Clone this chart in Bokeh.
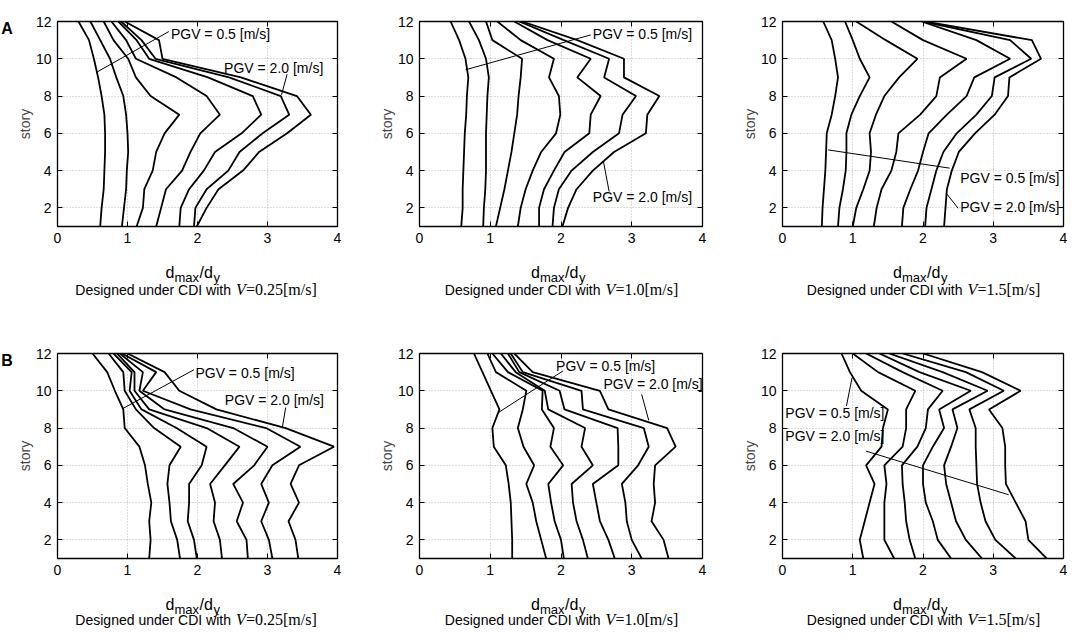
from bokeh.plotting import figure
from bokeh.models import Range1d, FixedTicker, Label, LinearAxis
from bokeh.layouts import column, row
from bokeh.embed import file_html
from bokeh.resources import INLINE

# ---------------- data ----------------
stories = list(range(1, 13))                      # story 1 .. 12
pgv_levels = ["0.5", "0.75", "1.0", "1.25", "1.5", "1.75", "2.0"]
x_ticks = [0, 1, 2, 3, 4]
y_ticks = [2, 4, 6, 8, 10, 12]
design_v = ["0.25", "1.0", "1.5"]
row_letters = ["A", "B"]

# d_max/d_y per story (story 1..12), one list per PGV level
a1_curves = [
    [0.61, 0.63, 0.66, 0.67, 0.68, 0.68, 0.67, 0.63, 0.58, 0.52, 0.45, 0.30],
    [0.92, 0.95, 0.98, 0.99, 1.01, 1.00, 0.98, 0.94, 0.84, 0.75, 0.61, 0.47],
    [1.13, 1.22, 1.24, 1.36, 1.41, 1.53, 1.74, 1.33, 1.12, 1.01, 0.80, 0.66],
    [1.41, 1.48, 1.55, 1.78, 1.90, 2.04, 2.32, 2.13, 1.70, 1.12, 0.98, 0.77],
    [1.74, 1.76, 1.88, 2.09, 2.25, 2.63, 2.91, 2.79, 2.15, 1.31, 1.13, 0.87],
    [1.95, 1.97, 2.13, 2.44, 2.60, 2.93, 3.31, 3.19, 2.45, 1.40, 1.20, 0.91],
    [1.99, 2.13, 2.30, 2.65, 2.88, 3.28, 3.62, 3.42, 2.62, 1.50, 1.45, 0.96],
]
a2_curves = [
    [0.59, 0.61, 0.61, 0.62, 0.63, 0.64, 0.66, 0.67, 0.69, 0.65, 0.56, 0.44],
    [0.90, 0.91, 0.93, 0.94, 0.94, 0.94, 0.95, 0.96, 0.98, 0.94, 0.84, 0.70],
    [1.08, 1.14, 1.20, 1.25, 1.30, 1.34, 1.38, 1.40, 1.43, 1.45, 1.03, 0.94],
    [1.39, 1.43, 1.50, 1.60, 1.72, 1.93, 1.99, 1.97, 1.83, 1.90, 1.43, 1.10],
    [1.69, 1.69, 1.76, 1.90, 2.05, 2.40, 2.42, 2.56, 2.23, 2.42, 1.81, 1.34],
    [1.88, 1.90, 1.97, 2.15, 2.45, 2.82, 2.87, 3.06, 2.61, 2.68, 2.04, 1.41],
    [2.02, 2.10, 2.22, 2.45, 2.75, 3.20, 3.22, 3.39, 2.89, 2.89, 2.23, 1.45],
]
a3_curves = [
    [0.56, 0.57, 0.59, 0.61, 0.62, 0.63, 0.70, 0.75, 0.79, 0.75, 0.70, 0.58],
    [0.79, 0.81, 0.86, 0.90, 0.91, 0.91, 0.98, 1.10, 1.24, 1.10, 1.00, 0.89],
    [1.00, 1.05, 1.15, 1.24, 1.26, 1.24, 1.33, 1.45, 1.66, 1.92, 1.47, 1.05],
    [1.30, 1.34, 1.41, 1.55, 1.62, 1.65, 1.96, 2.19, 2.24, 2.62, 2.00, 1.55],
    [1.70, 1.72, 1.82, 1.93, 2.00, 2.08, 2.34, 2.62, 2.73, 3.24, 2.76, 1.98],
    [2.03, 2.05, 2.12, 2.19, 2.29, 2.48, 2.76, 2.98, 3.02, 3.54, 3.24, 2.00],
    [2.30, 2.32, 2.34, 2.41, 2.51, 2.74, 3.02, 3.21, 3.23, 3.68, 3.55, 2.03],
]
b1_curves = [
    [1.31, 1.33, 1.31, 1.34, 1.29, 1.25, 1.17, 0.96, 0.94, 0.82, 0.71, 0.50],
    [1.75, 1.71, 1.62, 1.60, 1.57, 1.60, 1.76, 1.38, 1.12, 0.96, 0.94, 0.73],
    [1.99, 1.95, 1.86, 1.88, 1.88, 2.06, 2.13, 1.70, 1.20, 1.03, 1.06, 0.80],
    [2.35, 2.32, 2.23, 2.25, 2.18, 2.39, 2.60, 2.13, 1.31, 1.10, 1.10, 0.85],
    [2.72, 2.70, 2.56, 2.65, 2.51, 2.81, 3.00, 2.51, 1.53, 1.17, 1.22, 0.89],
    [3.07, 3.02, 2.91, 3.02, 2.91, 3.07, 3.47, 2.98, 1.90, 1.22, 1.41, 0.92],
    [3.44, 3.40, 3.30, 3.45, 3.33, 3.45, 3.95, 3.26, 2.27, 1.74, 1.53, 1.00],
]
b2_curves = [
    [1.31, 1.31, 1.30, 1.29, 1.26, 1.22, 1.05, 1.03, 1.13, 1.01, 0.89, 0.77],
    [1.79, 1.72, 1.65, 1.60, 1.51, 1.62, 1.47, 1.39, 1.46, 1.51, 1.08, 0.96],
    [2.04, 2.00, 1.91, 1.86, 1.82, 2.03, 1.85, 1.90, 1.73, 1.74, 1.25, 1.03],
    [2.38, 2.31, 2.22, 2.17, 2.15, 2.45, 2.29, 2.34, 1.82, 1.77, 1.36, 1.15],
    [2.76, 2.67, 2.55, 2.50, 2.45, 2.81, 2.81, 2.80, 2.05, 1.98, 1.41, 1.25],
    [3.14, 3.00, 2.93, 2.91, 2.86, 3.09, 3.24, 3.17, 2.31, 2.29, 1.46, 1.29],
    [3.52, 3.45, 3.28, 3.33, 3.31, 3.33, 3.62, 3.50, 2.67, 2.55, 1.60, 1.34],
]
b3_curves = [
    [1.15, 1.10, 1.17, 1.24, 1.31, 1.19, 1.41, 1.43, 1.50, 1.12, 0.96, 0.84],
    [1.59, 1.45, 1.45, 1.45, 1.48, 1.45, 1.71, 1.76, 1.76, 1.89, 1.36, 1.00],
    [1.89, 1.81, 1.76, 1.74, 1.71, 1.70, 1.92, 2.04, 2.07, 2.28, 1.71, 1.19],
    [2.40, 2.21, 2.14, 2.04, 2.00, 2.00, 2.14, 2.30, 2.23, 2.68, 1.95, 1.38],
    [2.84, 2.61, 2.47, 2.40, 2.33, 2.30, 2.40, 2.49, 2.42, 2.92, 2.28, 1.52],
    [3.32, 3.03, 2.89, 2.82, 2.77, 2.76, 2.75, 2.75, 2.66, 3.15, 2.61, 1.71],
    [3.76, 3.50, 3.46, 3.32, 3.18, 3.17, 3.17, 3.13, 2.94, 3.39, 2.84, 2.00],
]

# annotation leaders ([x0, x1], [y0, y1]) and text anchors (x, y)
a1_lead05 = ([0.56, 1.59], [9.28, 11.46]); a1_text05 = (1.62, 11.35)
a1_lead20 = ([3.20, 3.28], [8.06, 9.17]);  a1_text20 = (2.38, 9.50)
a2_lead05 = ([0.65, 2.42], [9.41, 11.28]); a2_text05 = (2.45, 11.35)
a2_lead20 = ([2.60, 2.68], [4.49, 2.88]);  a2_text20 = (2.45, 2.60)
a3_lead05 = ([0.65, 2.38], [5.11, 4.13]);  a3_text05 = (2.53, 3.60)
a3_lead20 = ([2.33, 2.50], [2.79, 1.98]);  a3_text20 = (2.53, 2.07)
b1_lead05 = ([0.93, 1.95], [9.04, 11.13]); b1_text05 = (1.97, 10.98)
b1_lead20 = ([3.21, 3.26], [7.99, 9.10]);  b1_text20 = (2.39, 9.52)
b2_lead05 = ([1.11, 2.03], [8.82, 11.07]); b2_text05 = (1.93, 11.34)
b2_lead20 = ([3.24, 3.14], [8.41, 9.81]);  b2_text20 = (2.60, 10.35)
b3_lead05 = ([0.91, 0.99], [9.18, 10.70]); b3_text05 = (0.04, 8.82)
b3_lead20 = ([1.19, 3.22], [6.76, 4.42]);  b3_text20 = (0.04, 7.57)

# ---------------- styling / layout ----------------
SANS = "Liberation Sans"
SERIF = "Liberation Serif"
FH = 205                 # plot frame height (px)
PT = 21                  # border above each frame
PB = 24                  # border under each frame (tick labels)
LW = 13                  # narrow box left of the first panel holding the row letter
CAP_H = [82, 46]         # caption band under row A / row B
CAP_D = [63, 61]         # caption centre, px below the frame bottom
COLS = [dict(fw=284, lb=40, rb=29), dict(fw=283, lb=53, rb=27), dict(fw=281, lb=53, rb=5)]
REST_W = {"0.25": 71, "1.0": 63, "1.5": 63}


def txt(x, y, text, font=SANS, size="14px", style="normal", align="left",
        baseline="middle", x_offset=0):
    return Label(x=x, y=y, x_offset=x_offset, text=text, text_font=font,
                 text_font_size=size, text_font_style=style, text_align=align,
                 text_baseline=baseline, text_color="black")


def blank_fig(width, height, x_range, y_range):
    f = figure(width=width, height=height, x_range=x_range, y_range=y_range,
               x_axis_type=None, y_axis_type=None, output_backend="svg",
               toolbar_location=None, title=None, min_border=0, min_border_left=0,
               min_border_right=0, min_border_top=0, min_border_bottom=0)
    f.outline_line_color = None
    f.background_fill_color = "white"
    f.border_fill_color = "white"
    return f


def make_panel(curves, lead05, text05, lead20, text20, col):
    fw, lb, rb = col["fw"], col["lb"], col["rb"]
    p = figure(width=lb + fw + rb, height=PT + FH + PB, title=None,
               x_range=Range1d(0, 4), y_range=Range1d(1, 12),
               output_backend="svg", toolbar_location=None,
               min_border_left=lb, min_border_right=rb,
               min_border_top=PT, min_border_bottom=PB)
    p.background_fill_color = "white"
    p.border_fill_color = "white"
    p.outline_line_color = "black"
    p.outline_line_width = 1.3

    for ax, ticks in ((p.xaxis[0], x_ticks), (p.yaxis[0], y_ticks)):
        ax.ticker = FixedTicker(ticks=ticks)
        ax.major_label_text_font = SANS
        ax.major_label_text_font_size = "14px"
        ax.major_label_text_color = "black"
        ax.major_tick_in = 5
        ax.major_tick_out = 0
        ax.minor_tick_line_color = None
        ax.axis_line_color = "black"
        ax.major_tick_line_color = "black"
    p.xaxis.major_label_standoff = 6
    p.yaxis.major_label_standoff = 6
    p.yaxis.axis_label = "story"
    p.yaxis.axis_label_text_font = SANS
    p.yaxis.axis_label_text_font_size = "14px"
    p.yaxis.axis_label_text_font_style = "normal"
    p.yaxis.axis_label_standoff = 0

    for loc, ticks in (("above", x_ticks), ("right", y_ticks)):
        ax = LinearAxis(ticker=FixedTicker(ticks=ticks),
                        major_label_overrides={t: "" for t in ticks},
                        major_label_text_font_size="0px", major_label_standoff=0,
                        major_tick_in=5, major_tick_out=0,
                        minor_tick_line_color=None, axis_line_color=None)
        p.add_layout(ax, loc)

    p.xgrid[0].ticker = FixedTicker(ticks=x_ticks)
    p.ygrid[0].ticker = FixedTicker(ticks=y_ticks)
    for g in (p.xgrid[0], p.ygrid[0]):
        g.grid_line_color = "#b8b8b8"
        g.grid_line_dash = "1 2"
        g.grid_line_width = 1

    for c in curves:
        p.line(x=c, y=stories, line_color="black", line_width=1.8)

    for (lx, ly), (tx, ty), t in ((lead05, text05, "PGV = 0.5 [m/s]"),
                                  (lead20, text20, "PGV = 2.0 [m/s]")):
        p.line(x=lx, y=ly, line_color="black", line_width=1.0)
        p.add_layout(txt(tx, ty, t))
    return p


def make_letter(letter):
    h = PT + FH + PB
    f = blank_fig(LW, h, Range1d(0, LW), Range1d(0, h))
    f.add_layout(txt(6.5, h - 8, letter, size="16px", style="bold", align="center"))
    return f


def make_caption(vtxt, col, h, d_cap, extra_left=0):
    fw, rb = col["fw"], col["rb"]
    lb = col["lb"] + extra_left
    W = lb + fw + rb
    ppx = fw / 4.0
    c = blank_fig(W, h, Range1d(-lb / ppx, (W - lb) / ppx), Range1d(0, h))

    def y_at(d):            # d = px below the panel frame's bottom edge
        return h - (d - PB)

    # x label  d_max / d_y
    for t, dx, d, fs in (("d", -30, 46, "16px"), ("max", -21, 51, "13px"),
                         ("/d", 4, 46, "16px"), ("y", 18, 51, "13px")):
        c.add_layout(txt(2, y_at(d), t, size=fs, baseline="alphabetic", x_offset=dx))

    # caption  Designed under CDI with V=...[m/s]
    total = 160 + 10 + REST_W[vtxt]
    start = -total / 2.0
    yc = y_at(d_cap)
    c.add_layout(txt(2, yc, "Designed under CDI with", align="right", x_offset=start + 156))
    c.add_layout(txt(2, yc, "V", font=SERIF, size="16px", style="italic",
                     x_offset=start + 161))
    c.add_layout(txt(2, yc, "=" + vtxt + "[m/s]", font=SERIF, size="16px",
                     x_offset=start + 171))
    return c


panels = [
    [(a1_curves, a1_lead05, a1_text05, a1_lead20, a1_text20),
     (a2_curves, a2_lead05, a2_text05, a2_lead20, a2_text20),
     (a3_curves, a3_lead05, a3_text05, a3_lead20, a3_text20)],
    [(b1_curves, b1_lead05, b1_text05, b1_lead20, b1_text20),
     (b2_curves, b2_lead05, b2_text05, b2_lead20, b2_text20),
     (b3_curves, b3_lead05, b3_text05, b3_lead20, b3_text20)],
]

children = []
for ri in range(2):
    figs = [make_letter(row_letters[ri])]
    figs += [make_panel(*panels[ri][ci], COLS[ci]) for ci in range(3)]
    children.append(row(*figs))
    caps = [make_caption(design_v[ci], COLS[ci], CAP_H[ri], CAP_D[ri],
                         LW if ci == 0 else 0) for ci in range(3)]
    children.append(row(*caps))

layout = column(*children)
open("out.html", "w").write(file_html(layout, INLINE))
